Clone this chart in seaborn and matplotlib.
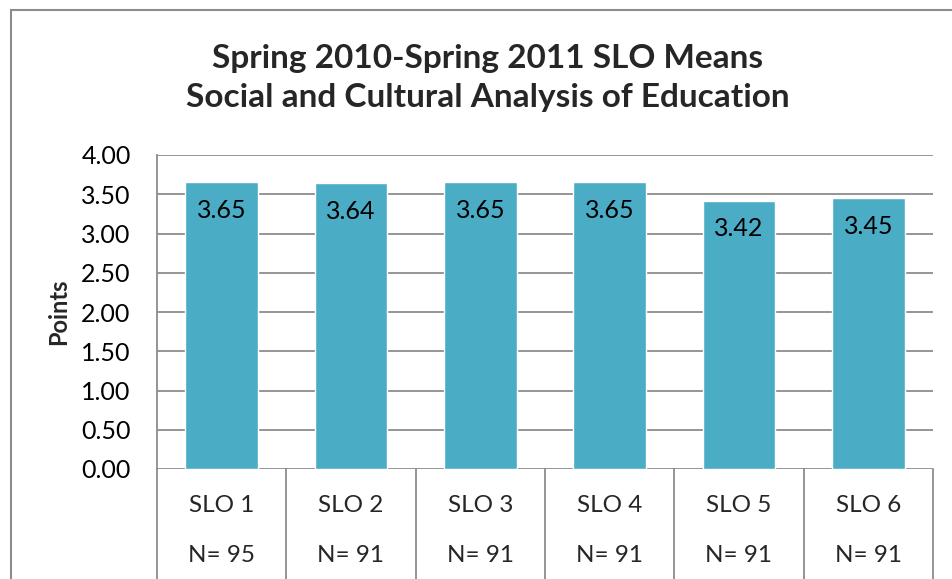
import matplotlib
matplotlib.use("Agg")
import matplotlib.pyplot as plt
import seaborn as sns
import pandas as pd
from matplotlib.patches import Rectangle

categories = ["SLO 1", "SLO 2", "SLO 3", "SLO 4", "SLO 5", "SLO 6"]
means = [3.65, 3.64, 3.65, 3.65, 3.42, 3.45]
counts = [95, 91, 91, 91, 91, 91]
y_ticks = [0.0, 0.5, 1.0, 1.5, 2.0, 2.5, 3.0, 3.5, 4.0]

title = "Spring 2010-Spring 2011 SLO Means\nSocial and Cultural Analysis of Education"

sns.set_theme(style="white")
plt.rcParams["font.family"] = ["Lato", "DejaVu Sans"]

bar_color = "#4BACC6"
grid_color = "#8C8C8C"

df = pd.DataFrame({"slo": categories, "mean": means})

fig = plt.figure(figsize=(9.53, 5.79), dpi=100)
ax = fig.add_axes([157 / 953, 1 - 469 / 579, (933 - 157) / 953, (469 - 155) / 579])

sns.barplot(data=df, x="slo", y="mean", color=bar_color, saturation=1,
            width=0.56, ax=ax, zorder=3)

ax.set_ylim(0, 4)
ax.set_xlim(-0.5, len(categories) - 0.5)
ax.set_yticks(y_ticks)
ax.set_yticklabels([f"{v:.2f}" for v in y_ticks], fontsize=18, color="black")
ax.tick_params(axis="y", length=0, pad=19)
ax.set_xticks([])
ax.set_xlabel("")
ax.set_ylabel("Points", fontsize=17, fontweight="bold", labelpad=8)

for v in y_ticks:
    ax.axhline(v, color=grid_color, linewidth=1.3, zorder=1)

for s in ["top", "right", "bottom"]:
    ax.spines[s].set_visible(False)
ax.spines["left"].set_color(grid_color)
ax.spines["left"].set_linewidth(1.3)

# value labels just inside the top of each bar
for i, v in enumerate(means):
    ax.text(i, v - 0.36, f"{v:.2f}", ha="center", va="center", fontsize=18,
            color="black", zorder=4)

# data-table style category rows under the axis
trans = ax.get_xaxis_transform()
for b in range(len(categories) + 1):
    ax.plot([b - 0.5, b - 0.5], [0, -0.36], transform=trans, color=grid_color,
            linewidth=1.3, clip_on=False)
for i, (c, n) in enumerate(zip(categories, counts)):
    ax.text(i, -0.115, c, transform=trans, ha="center", va="center", fontsize=17.5)
    ax.text(i, -0.275, f"N= {n}", transform=trans, ha="center", va="center",
            fontsize=17.5)

fig.text(488 / 953, 1 - 78 / 579, title, ha="center", va="center",
         fontsize=24, fontweight="bold", linespacing=1.42)

fig.patches.append(Rectangle((11 / 953, -0.1), 1.2, 1 - 10 / 579 + 0.1,
                             transform=fig.transFigure, fill=False,
                             edgecolor=grid_color, linewidth=1.5))

fig.savefig("out.png", dpi=100)
